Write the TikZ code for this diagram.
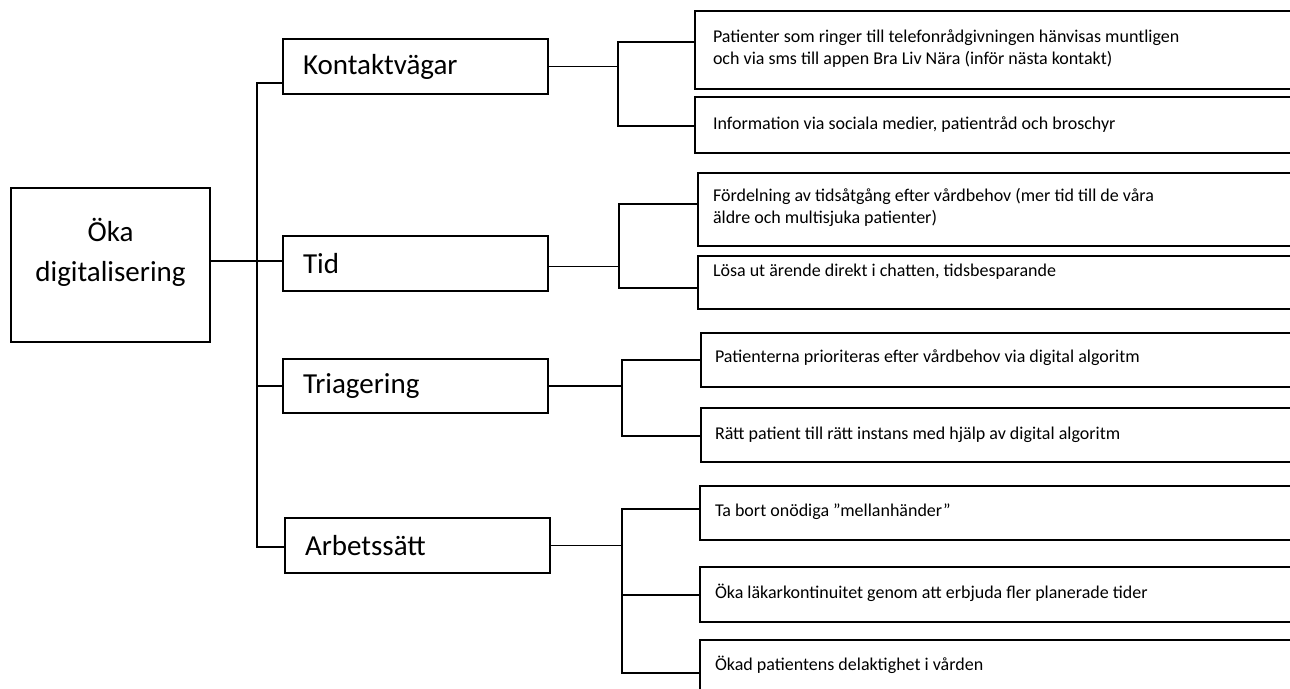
\documentclass[tikz,border=0pt]{standalone}
\usepackage{fontspec}
\setmainfont{Carlito}
\begin{document}
\begin{tikzpicture}[x=1pt,y=-1pt,line width=1.8pt,
  every node/.style={inner sep=0pt,outer sep=0pt},
  rootbox/.style={draw,anchor=north west,minimum width=199pt,minimum height=154pt},
  roottext/.style={align=center,font=\fontsize{29}{40}\selectfont},
  catbox/.style={draw,anchor=north west,align=left,text width=225pt,inner xsep=20pt,
    minimum height=55pt,font=\fontsize{29}{35}\selectfont},
  itembox/.style={draw,anchor=north west,minimum width=705pt},
  itemtext/.style={anchor=west,align=left,font=\fontsize{18}{22}\selectfont}]
\useasboundingbox (0,0) rectangle (1290,688);
\clip (0,0) rectangle (1290,688);
% root
\node[rootbox] (root) at (11,188) {};
\node[roottext] (roottxt) at (110.5,252) {Öka\\digitalisering};
% categories
\node[catbox] (kont) at (283,39) {Kontaktvägar};
\node[catbox] (tid) at (283,236) {Tid};
\node[catbox,minimum height=54pt] (tri) at (283,359) {Triagering};
\node[catbox] (arb) at (285,518) {Arbetssätt};
% item boxes
\node[itembox,minimum height=78pt] (b1) at (695,11) {};
\node[itembox,minimum height=56pt] (b2) at (695,97) {};
\node[itembox,minimum height=73pt] (b3) at (698,173) {};
\node[itembox,minimum height=53pt] (b4) at (698,256) {};
\node[itembox,minimum height=54pt] (b5) at (701,333) {};
\node[itembox,minimum height=54pt] (b6) at (701,408) {};
\node[itembox,minimum height=54pt] (b7) at (700,486) {};
\node[itembox,minimum height=55pt] (b8) at (700,567) {};
\node[itembox,minimum height=60pt] (b9) at (700,640) {};
% item texts
\node[itemtext] (t1) at (713,49) {Patienter som ringer till telefonrådgivningen hänvisas muntligen\\och via sms till appen Bra Liv Nära (inför nästa kontakt)};
\node[itemtext] (t2) at (713,125) {Information via sociala medier, patientråd och broschyr};
\node[itemtext] (t3) at (713,207.5) {Fördelning av tidsåtgång efter vårdbehov (mer tid till de våra\\äldre och multisjuka patienter)};
\node[itemtext] (t4) at (713,272) {Lösa ut ärende direkt i chatten, tidsbesparande};
\node[itemtext] (t5) at (715,358) {Patienterna prioriteras efter vårdbehov via digital algoritm};
\node[itemtext] (t6) at (715,435) {Rätt patient till rätt instans med hjälp av digital algoritm};
\node[itemtext] (t7) at (715,512) {Ta bort onödiga ”mellanhänder”};
\node[itemtext] (t8) at (715,593) {Öka läkarkontinuitet genom att erbjuda fler planerade tider};
\node[itemtext] (t9) at (715,665) {Ökad patientens delaktighet i vården};
% trunk
\coordinate (tk) at (257,83);
\coordinate (ta) at (257,547);
\draw ([yshift=-16.5pt]kont.west) -- (tk) -- (ta) -- (ta -| arb.west);
\draw ([yshift=4pt]root.east) -- ([yshift=4pt]root.east -| tid.west);
\draw (tk |- tri.west) -- (tri.west);
% Kontaktvägar bracket
\coordinate (k1) at (618,42);
\coordinate (k2) at (618,126);
\draw (kont.east) -- (kont.east -| k1);
\draw (k1 -| b1.west) -- (k1) -- (k2) -- (k2 -| b2.west);
% Tid bracket
\coordinate (d1) at (619,204);
\coordinate (d2) at (619,288);
\draw ([yshift=-3pt]tid.east) -- ([yshift=-3pt]tid.east -| d1);
\draw (d1 -| b3.west) -- (d1) -- (d2) -- (d2 -| b4.west);
% Triagering bracket
\coordinate (r1) at (622,360);
\coordinate (r2) at (622,436);
\draw (tri.east) -- (tri.east -| r1);
\draw (r1 -| b5.west) -- (r1) -- (r2) -- (r2 -| b6.west);
% Arbetssätt bracket
\coordinate (a1) at (622,509);
\coordinate (a2) at (622,595);
\coordinate (a3) at (622,673);
\draw (arb.east) -- (arb.east -| a1);
\draw (a1 -| b7.west) -- (a1) -- (a3) -- (a3 -| b9.west);
\draw (a2) -- (a2 -| b8.west);
\end{tikzpicture}
\end{document}
